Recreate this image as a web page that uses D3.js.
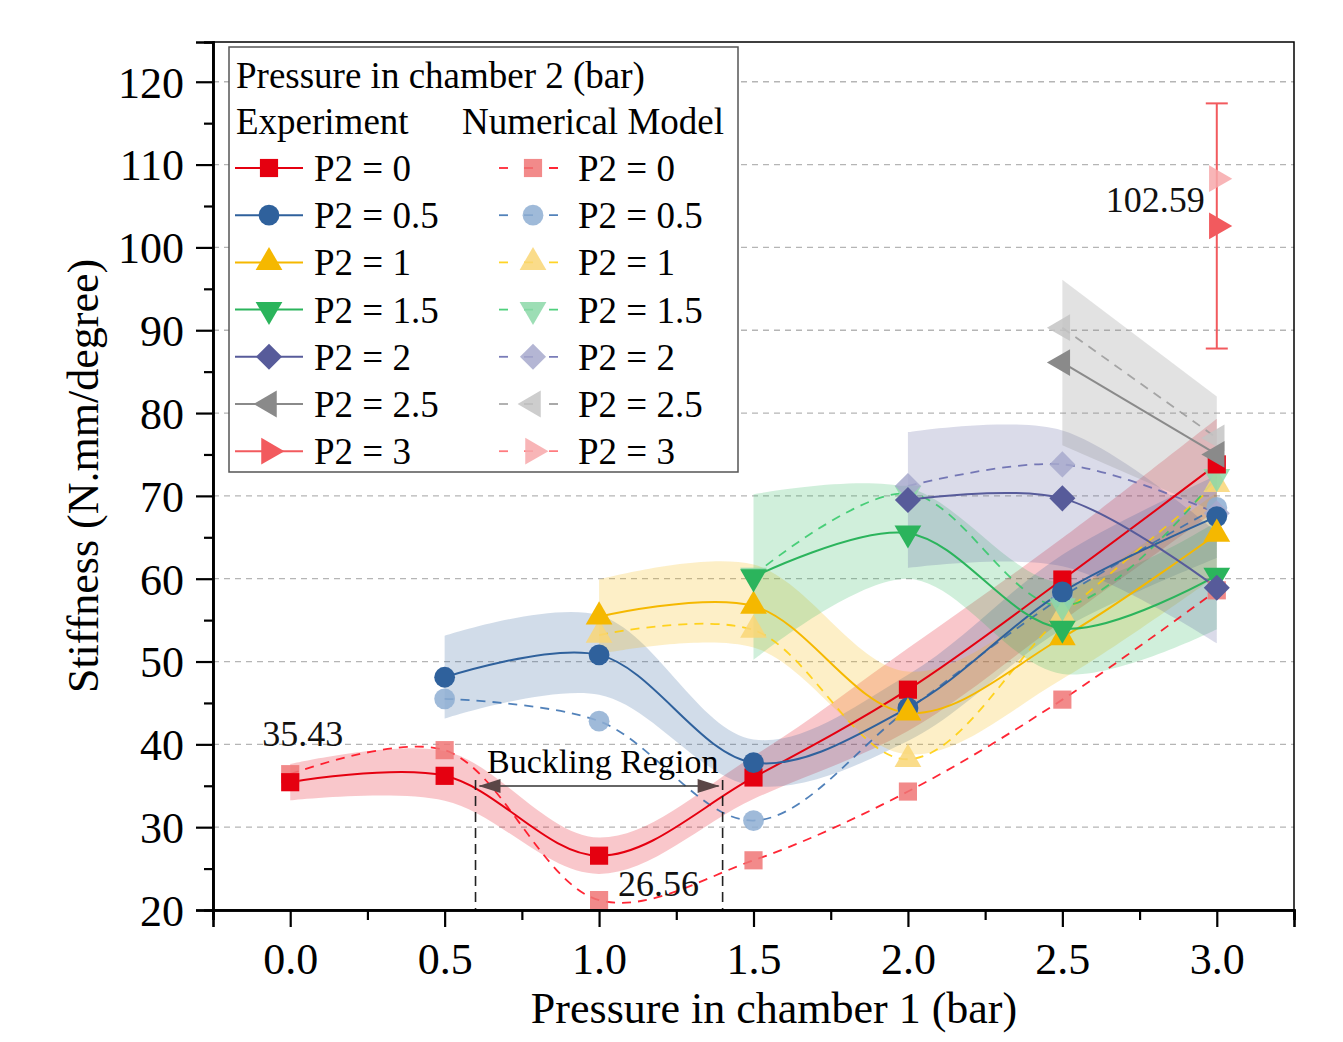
<!DOCTYPE html>
<html>
<head>
<meta charset="utf-8">
<script src="https://cdn.jsdelivr.net/npm/d3@7"></script>
<style>
  body { margin: 0; background: #fff; }
  svg { font-family: "Liberation Serif", "Times New Roman", serif; }
</style>
</head>
<body>
<div id="chart-area"></div>
<script>
// pressure in chamber 1 (bar)
const p1 = [0, 0.5, 1, 1.5, 2, 2.5, 3];
const p2Labels = ["P2 = 0", "P2 = 0.5", "P2 = 1", "P2 = 1.5", "P2 = 2", "P2 = 2.5", "P2 = 3"];

// experiment (mean) and spread, one list per chamber 2 pressure
const expP0 = [35.43, 36.2, 26.56, 36.0, 46.6, 59.9, 73.8];
const expP05 = [48.1, 50.8, 37.8, 44.4, 58.4, 67.5];
const expP1 = [55.4, 56.7, 43.8, 52.9, 65.4];
const expP15 = [60.2, 65.5, 54.0, 60.4];
const expP2 = [69.5, 69.7, 58.9];
const expP25 = [86.1, 75.0];
const expP3 = [102.59];

const errP0 = [2.2, 3.0, 2.2, 2.6, 5, 5, 5.5];
const errP05 = [5, 4.8, 2.8, 4, 4.5, 5];
const errP1 = [4.5, 5, 5, 5, 5];
const errP15 = [10, 5.5, 5.5, 6.5];
const errP2 = [8.2, 8.2, 6.7];
const errP25 = [10, 7];
const errP3 = [14.8];

// numerical model
const numP0 = [36.4, 39.3, 21.2, 26.0, 34.3, 45.4, 58.6];
const numP05 = [45.5, 42.8, 30.8, 44.2, 57.8, 68.6];
const numP1 = [53.2, 53.8, 38.2, 55.6, 71.4];
const numP15 = [60.4, 70.3, 56.7, 72.3];
const numP2 = [71.2, 73.8, 67.9];
const numP25 = [90.3, 77.0];
const numP3 = [108.3];

const xTicks = [0, 0.5, 1, 1.5, 2, 2.5, 3];
const yTicks = [20, 30, 40, 50, 60, 70, 80, 90, 100, 110, 120];

const expColors = ["#e50010", "#2f619c", "#f5b800", "#2bb45c", "#575b9a", "#8a8a8a", "#f25a5e"];
const numColors = ["#f07676", "#8eaed2", "#f9d675", "#8cd8a8", "#a7a9cc", "#c4c4c4", "#f7a8aa"];
const shapes = ["square", "circle", "up", "down", "diamond", "left", "right"];

const expList = [expP0, expP05, expP1, expP15, expP2, expP25, expP3];
const errList = [errP0, errP05, errP1, errP15, errP2, errP25, errP3];
const numList = [numP0, numP05, numP1, numP15, numP2, numP25, numP3];

const series = expList.map((v, i) => {
  const xs = p1.slice(p1.length - v.length);
  return {
    i: i,
    exp: v.map((d, j) => ({x: xs[j], y: d, e: errList[i][j]})),
    num: numList[i].map((d, j) => ({x: xs[j], y: d}))
  };
});

const W = 1343, H = 1042;
const svg = d3.select("#chart-area").append("svg")
  .attr("width", W)
  .attr("height", H);

const x = d3.scaleLinear().domain([-0.25, 3.25]).range([213, 1294]);
const y = d3.scaleLinear().domain([20, 124.8]).range([910, 42]);

// grid
svg.append("g").selectAll("line")
  .data(yTicks.filter(d => d > 20))
  .enter().append("line")
  .attr("x1", x(-0.25)).attr("x2", x(3.25))
  .attr("y1", d => y(d)).attr("y2", d => y(d))
  .attr("stroke", "#b5b5b5").attr("stroke-width", 1.3)
  .attr("stroke-dasharray", "6,5");

const curve = d3.curveCatmullRom.alpha(0.5);

// shaded bands
const area = d3.area().curve(curve)
  .x(d => x(d.x)).y0(d => y(d.y - d.e)).y1(d => y(d.y + d.e));
svg.append("g").selectAll("path")
  .data(series.filter(s => s.exp.length > 1))
  .enter().append("path")
  .attr("d", s => area(s.exp))
  .attr("fill", s => expColors[s.i])
  .attr("fill-opacity", s => s.i === 5 ? 0.25 : 0.22);

const line = d3.line().curve(curve).x(d => x(d.x)).y(d => y(d.y));

// numerical model lines
svg.append("g").selectAll("path")
  .data(series.filter(s => s.num.length > 1))
  .enter().append("path")
  .attr("d", s => line(s.num))
  .attr("fill", "none")
  .attr("stroke", s => d3.color(expColors[s.i]).brighter(0.3))
  .attr("stroke-opacity", 0.85)
  .attr("stroke-width", 1.8)
  .attr("stroke-dasharray", "9,7");

// experiment lines
svg.append("g").selectAll("path")
  .data(series.filter(s => s.exp.length > 1))
  .enter().append("path")
  .attr("d", s => line(s.exp))
  .attr("fill", "none")
  .attr("stroke", s => expColors[s.i])
  .attr("stroke-width", 2);

// error bar of the single point
const eb = series[6].exp[0];
const ebg = svg.append("g").attr("stroke", expColors[6]).attr("stroke-width", 2);
ebg.append("line").attr("x1", x(eb.x)).attr("x2", x(eb.x)).attr("y1", y(eb.y - eb.e)).attr("y2", y(eb.y + eb.e));
ebg.append("line").attr("x1", x(eb.x) - 11).attr("x2", x(eb.x) + 11).attr("y1", y(eb.y - eb.e)).attr("y2", y(eb.y - eb.e));
ebg.append("line").attr("x1", x(eb.x) - 11).attr("x2", x(eb.x) + 11).attr("y1", y(eb.y + eb.e)).attr("y2", y(eb.y + eb.e));

function symbolPath(shape) {
  if (shape === "circle") return d3.symbol(d3.symbolCircle, 340)();
  if (shape === "square") return d3.symbol(d3.symbolSquare, 330)();
  if (shape === "diamond") return d3.symbol(d3.symbolSquare, 340)();
  return d3.symbol(d3.symbolTriangle, 310)();
}
function symbolRot(shape) {
  return {diamond: 45, down: 180, left: -90, right: 90}[shape] || 0;
}
function drawMarker(g, shape, cx, cy, color, op) {
  g.append("path")
    .attr("d", symbolPath(shape))
    .attr("transform", `translate(${cx},${cy}) rotate(${symbolRot(shape)})`)
    .attr("fill", color)
    .attr("fill-opacity", op);
}

// numerical markers then experiment markers
const mk = svg.append("g");
series.forEach(s => s.num.forEach(d => drawMarker(mk, shapes[s.i], x(d.x), y(d.y), numColors[s.i], 0.85)));
series.forEach(s => s.exp.forEach(d => drawMarker(mk, shapes[s.i], x(d.x), y(d.y), expColors[s.i], 1)));

// buckling region
const bk = svg.append("g");
const arrowY = 786;
[0.6, 1.4].forEach(v => {
  bk.append("line")
    .attr("x1", x(v)).attr("x2", x(v))
    .attr("y1", arrowY - 6).attr("y2", y(20))
    .attr("stroke", "#222").attr("stroke-width", 1.6)
    .attr("stroke-dasharray", "10,6");
});
bk.append("line")
  .attr("x1", x(0.6) + 4).attr("x2", x(1.4) - 4)
  .attr("y1", arrowY).attr("y2", arrowY)
  .attr("stroke", "#333").attr("stroke-width", 1.5);
bk.append("path")
  .attr("d", `M${x(0.6) + 3},${arrowY} L${x(0.6) + 25},${arrowY - 7} L${x(0.6) + 25},${arrowY + 7} Z`)
  .attr("fill", "#5a4646");
bk.append("path")
  .attr("d", `M${x(1.4) - 3},${arrowY} L${x(1.4) - 25},${arrowY - 7} L${x(1.4) - 25},${arrowY + 7} Z`)
  .attr("fill", "#5a4646");
bk.append("text")
  .attr("x", 487).attr("y", 773)
  .attr("font-size", 34)
  .text("Buckling Region");

// value labels
const ann = svg.append("g").attr("font-size", 36).attr("fill", "#111");
ann.append("text").attr("x", x(0) - 28).attr("y", y(expP0[0]) - 36).text("35.43");
ann.append("text").attr("x", x(1) + 19).attr("y", y(expP0[2]) + 40).text("26.56");
ann.append("text").attr("x", x(3) - 12).attr("y", y(expP3[0]) - 14)
  .attr("text-anchor", "end").text("102.59");

// frame
svg.append("rect")
  .attr("x", x(-0.25)).attr("y", y(124.8))
  .attr("width", x(3.25) - x(-0.25)).attr("height", y(20) - y(124.8))
  .attr("fill", "none").attr("stroke", "#000").attr("stroke-width", 1.5);

// x axis
const xa = svg.append("g").attr("transform", `translate(0,${y(20)})`)
  .call(d3.axisBottom(x).tickValues(xTicks).tickSize(17).tickPadding(12).tickFormat(d3.format(".1f")));
const xMinor = svg.append("g").attr("transform", `translate(0,${y(20)})`)
  .call(d3.axisBottom(x).tickValues(d3.range(-0.25, 3.3, 0.5)).tickSize(10).tickFormat(""));
// y axis
const ya = svg.append("g").attr("transform", `translate(${x(-0.25)},0)`)
  .call(d3.axisLeft(y).tickValues(yTicks).tickSize(17).tickPadding(12));
const yMinor = svg.append("g").attr("transform", `translate(${x(-0.25)},0)`)
  .call(d3.axisLeft(y).tickValues(d3.range(25, 124, 10)).tickSize(9).tickFormat(""));

[xa, xMinor, ya, yMinor].forEach(g => {
  g.select(".domain").attr("stroke", "#000").attr("stroke-width", 2.6);
  g.selectAll(".tick line").attr("stroke", "#000").attr("stroke-width", 2.2);
  g.selectAll(".tick text")
    .attr("font-family", "Liberation Serif, Times New Roman, serif")
    .attr("font-size", 44).attr("fill", "#000");
});
xa.selectAll(".tick text").attr("dy", "0.8em");
ya.selectAll(".tick text").attr("dy", "0.35em");

svg.append("text")
  .attr("x", 774).attr("y", 1023)
  .attr("text-anchor", "middle").attr("font-size", 44)
  .text("Pressure in chamber 1 (bar)");
svg.append("text")
  .attr("transform", "translate(98,476) rotate(-90)")
  .attr("text-anchor", "middle").attr("font-size", 44)
  .text("Stiffness (N.mm/degree)");

// legend
const lg = svg.append("g");
lg.append("rect")
  .attr("x", 229).attr("y", 47).attr("width", 509).attr("height", 425)
  .attr("fill", "#fff").attr("stroke", "#555").attr("stroke-width", 1.5);
lg.append("text").attr("x", 236).attr("y", 88).attr("font-size", 37).text("Pressure in chamber 2 (bar)");
lg.append("text").attr("x", 236).attr("y", 134).attr("font-size", 37).text("Experiment");
lg.append("text").attr("x", 462).attr("y", 134).attr("font-size", 37).text("Numerical Model");

p2Labels.forEach((lab, i) => {
  const cy = 168 + i * 47.2;
  lg.append("line").attr("x1", 235).attr("x2", 303).attr("y1", cy).attr("y2", cy)
    .attr("stroke", expColors[i]).attr("stroke-width", 2);
  drawMarker(lg, shapes[i], 269, cy, expColors[i], 1);
  lg.append("text").attr("x", 314).attr("y", cy + 13).attr("font-size", 37).text(lab);

  lg.append("line").attr("x1", 499).attr("x2", 568).attr("y1", cy).attr("y2", cy)
    .attr("stroke", d3.color(expColors[i]).brighter(0.3)).attr("stroke-opacity", 0.85)
    .attr("stroke-width", 1.8).attr("stroke-dasharray", "9,16");
  drawMarker(lg, shapes[i], 533, cy, numColors[i], 0.85);
  lg.append("text").attr("x", 578).attr("y", cy + 13).attr("font-size", 37).text(lab);
});
</script>
</body>
</html>
